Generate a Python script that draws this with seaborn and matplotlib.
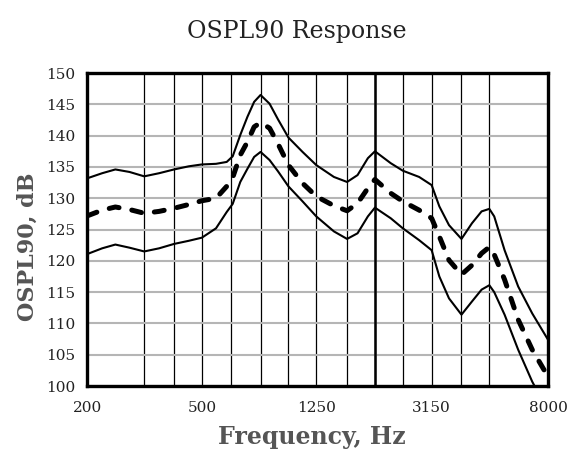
import matplotlib
matplotlib.use("Agg")
import matplotlib.pyplot as plt
import seaborn as sns
import pandas as pd

# ---- data ----
freqs = [200, 225, 250, 280, 315, 355, 400, 450, 500, 560, 610, 640, 680, 720, 760, 800,
         860, 920, 1000, 1120, 1250, 1440, 1600, 1740, 1890, 2000, 2270, 2500, 2850, 3150,
         3350, 3620, 4000, 4350, 4700, 5000, 5200, 5650, 6300, 7050, 8000]
upper = [133.2, 134.0, 134.6, 134.2, 133.5, 134.0, 134.6, 135.1, 135.4, 135.5, 135.8, 136.7,
         140.1, 143.0, 145.4, 146.5, 145.1, 142.6, 139.7, 137.4, 135.3, 133.4, 132.6, 133.7,
         136.4, 137.5, 135.6, 134.4, 133.4, 132.1, 128.7, 125.7, 123.5, 126.0, 127.9, 128.3,
         127.1, 121.7, 115.9, 111.6, 107.4]
median = [127.2, 128.1, 128.6, 128.2, 127.6, 127.9, 128.4, 129.0, 129.6, 130.0, 131.9, 133.3,
          136.9, 139.0, 141.4, 142.1, 141.2, 138.7, 135.3, 132.4, 130.3, 128.8, 128.0, 129.2,
          131.6, 133.0, 130.8, 129.5, 128.1, 126.8, 123.9, 120.1, 117.8, 119.3, 121.2, 122.2,
          121.0, 117.0, 110.6, 105.8, 101.5]
lower = [121.1, 122.0, 122.6, 122.1, 121.5, 122.0, 122.7, 123.2, 123.7, 125.2, 127.8, 129.1,
         132.6, 134.7, 136.6, 137.4, 136.1, 134.3, 131.9, 129.5, 127.1, 124.7, 123.5, 124.4,
         127.1, 128.5, 126.8, 125.2, 123.3, 121.7, 117.5, 114.0, 111.4, 113.5, 115.4, 116.1,
         115.0, 111.4, 105.8, 100.7, 96.0]

x_tick_vals = [200, 500, 1250, 3150, 8000]
x_tick_labels = ["200", "500", "1250", "3150", "8000"]
x_grid_minor = [315, 400, 630, 800, 1000, 1600, 2000, 2500, 4000, 5000]
y_ticks = [100, 105, 110, 115, 120, 125, 130, 135, 140, 145, 150]

title = "OSPL90 Response"
xlabel = "Frequency, Hz"
ylabel = "OSPL90, dB"

df = pd.DataFrame({"freq": freqs, "upper": upper, "median": median, "lower": lower})

sns.set_theme(style="white")
plt.rcParams["font.family"] = ["DejaVu Serif"]

fig = plt.figure(figsize=(5.70, 4.51), dpi=100)
ax = fig.add_axes([0.1535, 0.1441, 0.8079, 0.6939])

sns.lineplot(data=df, x="freq", y="upper", ax=ax, color="black", lw=1.5, estimator=None)
sns.lineplot(data=df, x="freq", y="lower", ax=ax, color="black", lw=1.5, estimator=None)
sns.lineplot(data=df, x="freq", y="median", ax=ax, color="black", lw=3.6, estimator=None)
for ln in ax.get_lines():
    ln.set_solid_joinstyle("round")
    ln.set_solid_capstyle("round")
mline = ax.get_lines()[-1]
mline.set_dashes((2.0, 2.6))
mline.set_dash_capstyle("round")
mline.set_dash_joinstyle("round")

ax.set_xscale("log")
ax.set_xlim(200, 8000)
ax.set_ylim(100, 150)
ax.set_xticks(x_tick_vals)
ax.set_xticklabels(x_tick_labels)
ax.set_xticks(x_grid_minor, minor=True)
ax.set_xticklabels([], minor=True)
ax.set_yticks(y_ticks)
ax.set_yticklabels([str(v) for v in y_ticks])
ax.tick_params(axis="both", which="both", length=0, labelsize=11, colors="#222222", pad=9)
ax.tick_params(axis="x", pad=11)

ax.grid(True, axis="y", color="#b5b5b5", lw=1.5, zorder=0)
ax.grid(True, axis="x", which="both", color="black", lw=0.9, zorder=1)
ax.axvline(2000, color="black", lw=1.8, zorder=1)
ax.set_axisbelow(True)

for s in ax.spines.values():
    s.set_visible(True)
    s.set_color("black")
    s.set_linewidth(2.4)

ax.set_xlabel("")
ax.set_ylabel("")

fig.text(0.521, 0.93, title, ha="center", va="center", fontsize=17, color="#222222")
fig.text(0.547, 0.031, xlabel, ha="center", va="center", fontsize=17, fontweight="bold", color="#555555")
fig.text(0.049, 0.452, ylabel, ha="center", va="center", rotation=90, fontsize=16, fontweight="bold", color="#555555")

fig.savefig("out.png", dpi=100)
